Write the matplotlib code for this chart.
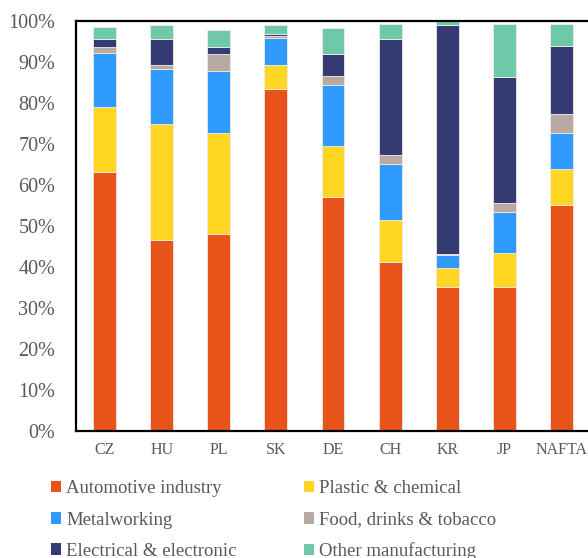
import matplotlib
matplotlib.use("Agg")
import matplotlib.pyplot as plt
from matplotlib.patches import Patch
from matplotlib.ticker import FuncFormatter
import numpy as np

plt.rcParams["font.family"] = ["Liberation Serif", "DejaVu Serif"]

# ------------------------
# Data (shares in %)
# ------------------------
regions = ["CZ", "HU", "PL", "SK", "DE", "CH", "KR", "JP", "NAFTA"]

automotive = [63.2, 46.6, 48.0, 83.4, 57.1, 41.1, 35.1, 35.2, 55.2]
plastic = [15.9, 28.2, 24.8, 5.9, 12.4, 10.4, 4.6, 8.1, 8.8]
metalworking = [13.2, 13.4, 14.9, 6.5, 15.0, 13.5, 3.2, 10.2, 8.6]
food = [1.4, 1.1, 4.3, 0.5, 2.2, 2.2, 0.3, 2.0, 4.7]
electrical = [1.8, 6.4, 1.7, 0.6, 5.2, 28.5, 55.9, 30.9, 16.5]
other = [3.1, 3.3, 4.1, 2.2, 6.5, 3.5, 0.8, 12.9, 5.5]

series_names = ["Automotive industry", "Plastic & chemical", "Metalworking",
                "Food, drinks & tobacco", "Electrical & electronic", "Other manufacturing"]
series_values = [automotive, plastic, metalworking, food, electrical, other]
series_colors = ["#E8531A", "#FFD624", "#2F9BFF", "#B7AAA2", "#353C73", "#6EC9AA"]

# ------------------------
# Chart
# ------------------------
fig = plt.figure(figsize=(5.88, 5.58), dpi=100)
ax = fig.add_axes([0.1293, 0.2276, 0.874, 0.7348])

x = np.arange(len(regions))
bottom = np.zeros(len(regions))
for name, vals, col in zip(series_names, series_values, series_colors):
    vals = np.array(vals)
    ax.bar(x, vals, width=0.4, bottom=bottom, color=col,
           edgecolor="#F3E9E4", linewidth=0.6, label=name)
    bottom += vals

ax.set_xlim(-0.5, len(regions) - 0.5)
ax.set_ylim(0, 100)
ax.set_yticks(np.arange(0, 101, 10))
ax.yaxis.set_major_formatter(FuncFormatter(lambda v, _: f"{v:.0f}%"))
ax.set_xticks(x)
ax.set_xticklabels(regions)

ax.tick_params(axis="y", length=0, pad=15, labelsize=14.5, labelcolor="#595959")
ax.tick_params(axis="x", length=0, pad=8, labelsize=11.5, labelcolor="#595959")

for side in ["left", "bottom", "top"]:
    ax.spines[side].set_linewidth(1.6)
    ax.spines[side].set_color("black")
ax.spines["right"].set_visible(False)

# legend reads row by row in the reference, matplotlib fills by column
order = [0, 2, 4, 1, 3, 5]
handles = [Patch(facecolor=series_colors[i], edgecolor="none") for i in order]
labels = [series_names[i] for i in order]
fig.legend(handles, labels, ncol=2, loc="upper left",
           bbox_to_anchor=(0.087, 0.139), frameon=False,
           fontsize=13.5, labelcolor="#595959",
           handlelength=0.55, handleheight=0.55, handletextpad=0.25,
           columnspacing=3.6, labelspacing=0.75, borderpad=0, borderaxespad=0)

fig.savefig("out.png", dpi=100)
